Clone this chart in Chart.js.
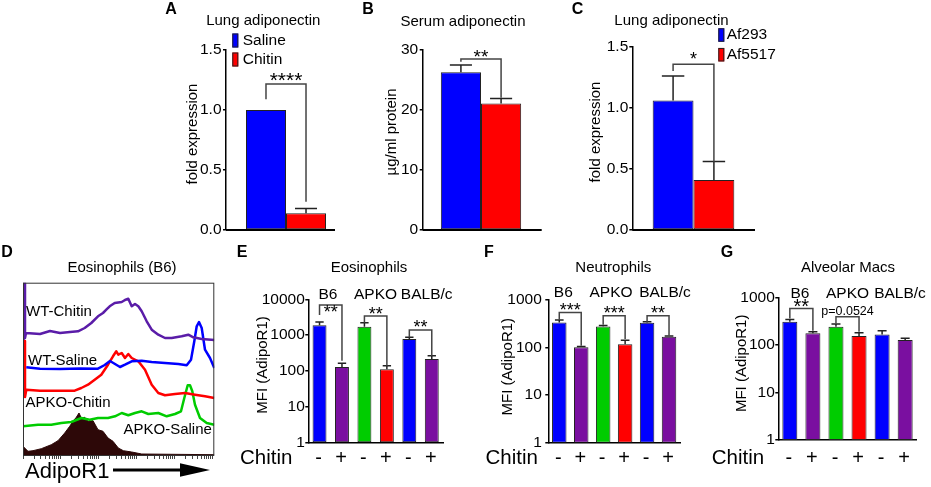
<!DOCTYPE html>
<html>
<head>
<meta charset="utf-8">
<script src="https://cdn.jsdelivr.net/npm/chart.js@4.4.1/dist/chart.umd.min.js"></script>
<style>
  html, body { margin: 0; padding: 0; background: #fff; }
  #wrap { position: relative; width: 931px; height: 487px; overflow: hidden; background: #fff; }
  #wrap canvas { position: absolute; left: 0; top: 0; }
</style>
</head>
<body>
<div id="wrap">
  <canvas id="chartA" width="931" height="487"></canvas>
  <canvas id="chartB" width="931" height="487"></canvas>
  <canvas id="chartC" width="931" height="487"></canvas>
  <canvas id="chartD" width="931" height="487"></canvas>
  <canvas id="chartE" width="931" height="487"></canvas>
  <canvas id="chartF" width="931" height="487"></canvas>
  <canvas id="chartG" width="931" height="487"></canvas>
</div>
<script>
const FONT = '"Liberation Sans", Arial, Helvetica, sans-serif';
const W = 931, H = 487;

// --- data: top row (A, B, C)
const aLabels = ['Saline', 'Chitin'];
const aMeans = [1.0, 0.14];
const aErrTop = [null, 0.18];

const bLabels = ['Saline', 'Chitin'];
const bMeans = [26.3, 21.1];
const bErrTop = [27.5, 21.9];

const cLabels = ['Af293', 'Af5517'];
const cMeans = [1.06, 0.41];
const cErrTop = [1.26, 0.56];

// --- data: histogram overlay D  ([channel, count] pairs)
const dWtChitin = [[0.5,115],[0.5,172],[2,172],[2,117],[3,122],[17,121],[27,124],[37,122],[47,123],[55,123.7],
  [61.7,127],[68.3,132],[75,138.7],[80,142],[83.3,145.3],[86.7,148.7],[91.7,152],[98.7,153],[102,155],[105.3,156.3],
  [108.7,148.7],[112,151],[115.3,148.7],[118.7,143.7],[123.7,133.7],[128.7,125.3],[135.3,120.3],[142,117],[148.7,117],
  [158.7,118.7],[165.3,120.3],[170.3,117.7],[178.7,116],[191.3,115]];
const dWtSaline = [[3.3,87.7],[17,86.3],[37,86],[57,86.5],[75,86.3],[81.7,90],[87,94],[92,91],[97,88],[102,90.3],
  [108.7,93.7],[118.7,94.3],[128.7,93],[142,92],[155.3,91],[163.7,89.7],[168,95.3],[171.3,113.7],[173.7,128.7],
  [176,133],[178.7,127],[182,105.3],[187,97],[191.3,87]];
const dApkoChitin = [[0.5,57],[0.5,114],[2,114],[2,58],[3.3,65.3],[17,64.3],[37,64.3],[51.7,64.3],[58.3,67],[65,70.3],
  [71.7,75.3],[78.3,80.3],[85,90.3],[90,98.7],[93.3,103.7],[95.3,100.3],[98.7,102],[102,97],[105.3,101],[108.7,97],
  [115.3,93.7],[122,85.3],[128.7,70.3],[135.3,62],[142,59.7],[152,61],[162,62],[172,60.3],[182,58.7],[191.3,57]];
const dApkoSaline = [[0,28.7],[15,30.3],[28.3,30.3],[38.3,32],[48.3,33],[58.3,37],[66.7,35.3],[75,37],[85,37],
  [92,38.7],[98.7,42],[105.3,39.7],[112,42],[118.7,43.7],[125.3,41],[135.3,42],[143.7,38.7],[152,41],[158,43.7],
  [161.3,57],[164.7,69.7],[167,69.7],[169.3,63.7],[172,50.3],[177,37],[183.7,32],[191.3,30.3]];
const dFilled = [[0,8.7],[5,3.7],[10,4.3],[18.3,6.3],[28.3,10.3],[35,14.3],[41.7,22],[46.7,28.7],[50,33.7],[53.3,37.7],
  [56,42],[58.3,37],[61.7,37.7],[65,33.7],[70,34.3],[75,25.3],[80,23.7],[85,17],[90,13.7],[95.3,7],[100.3,4.3],
  [108.7,3],[118.7,1],[191.3,0.3]];
const dTickDecades = [0, 38, 76, 114, 152, 190];
const dTickMinor = [11, 18, 23, 27, 30, 32, 34, 36];

// --- data: bottom row (E, F, G)
const groupNames = ['B6', 'APKO', 'BALB/c'];
const chitinCats = ['-', '+', '-', '+', '-', '+'];

const eMeans = [1870, 128, 1710, 110, 776, 214];
const eErrTop = [2330, 162, 2220, 139, 865, 265];
const eTicks = [1, 10, 100, 1000, 10000];

const fMeans = [336, 102, 277, 118, 331, 168];
const fErrTop = [378, 105, 290, 143, 347, 174];
const fTicks = [1, 10, 100, 1000];

const gMeans = [305, 175, 240, 153, 166, 126];
const gErrTop = [343, 188, 273, 180, 198, 137];
const gTicks = [1, 10, 100, 1000];

const BLUE = '#0000ff', RED = '#ff0000', GREEN = '#00cc00', PURPLE = '#7a0fa0';
const sixColors = [BLUE, PURPLE, GREEN, RED, BLUE, PURPLE];

// extra drawing info per canvas (texts, brackets...)
const extras = {};

function font(size, bold) {
  return (bold ? 'bold ' : '') + size + 'px ' + FONT;
}

function allBars(chart) {
  const out = [];
  chart.data.datasets.forEach((ds, d) => {
    chart.getDatasetMeta(d).data.forEach(el => out.push(el));
  });
  return out;
}

function drawText(ctx, t) {
  const size = t.size || 15;
  ctx.save();
  ctx.fillStyle = '#000';
  ctx.font = font(size, t.bold);
  ctx.textAlign = t.align || 'center';
  ctx.textBaseline = 'middle';
  let y = t.y;
  if (/^\*+$/.test(t.t)) y += 0.23 * size;
  if (t.rot) {
    ctx.translate(t.x, y);
    ctx.rotate(-Math.PI / 2);
    ctx.fillText(t.t, 0, 0);
  } else {
    ctx.fillText(t.t, t.x, y);
  }
  ctx.restore();
}

const panelPlugin = {
  id: 'panel',
  afterDatasetsDraw(chart) {
    const o = extras[chart.canvas.id];
    if (!o) return;
    const ctx = chart.ctx;
    const ys = chart.scales.y;
    const bars = allBars(chart);
    ctx.save();
    if (o.errTop) {
      ctx.strokeStyle = '#222';
      ctx.lineWidth = 1.5;
      bars.forEach((el, k) => {
        const e = o.errTop[k];
        if (e == null) return;
        const ye = ys.getPixelForValue(e);
        const half = el.width * o.capFrac / 2;
        ctx.beginPath();
        ctx.moveTo(el.x, el.y);
        ctx.lineTo(el.x, ye);
        ctx.moveTo(el.x - half, ye);
        ctx.lineTo(el.x + half, ye);
        ctx.stroke();
      });
    }
    (o.brackets || []).forEach(b => {
      const xl = bars[b.from].x, xr = bars[b.to].x;
      const yt = ys.getPixelForValue(b.top);
      ctx.strokeStyle = '#444';
      ctx.lineWidth = 1.5;
      ctx.beginPath();
      ctx.moveTo(xl, ys.getPixelForValue(b.left));
      ctx.lineTo(xl, yt);
      ctx.lineTo(xr, yt);
      ctx.lineTo(xr, ys.getPixelForValue(b.right));
      ctx.stroke();
      drawText(ctx, { t: b.label, x: (xl + xr) / 2, y: ys.getPixelForValue(b.labelAt), size: b.size });
    });
    ctx.restore();
  },
  afterDraw(chart) {
    const o = extras[chart.canvas.id];
    if (!o) return;
    const ctx = chart.ctx;
    const area = chart.chartArea;
    ctx.save();
    if (o.xAxisEnd) {
      ctx.strokeStyle = '#000';
      ctx.lineWidth = 2;
      ctx.beginPath();
      ctx.moveTo(area.left, area.bottom);
      ctx.lineTo(o.xAxisEnd, area.bottom);
      ctx.stroke();
    }
    if (o.frame) {
      ctx.strokeStyle = '#333';
      ctx.lineWidth = 1;
      ctx.strokeRect(area.left + 0.5, area.top + 0.5, area.right - area.left - 1, area.bottom - area.top);
    }
    if (o.arrow) {
      const a = o.arrow;
      ctx.strokeStyle = '#000';
      ctx.fillStyle = '#000';
      ctx.lineWidth = 3;
      ctx.beginPath();
      ctx.moveTo(a.x1, a.y);
      ctx.lineTo(a.headX + 2, a.y);
      ctx.stroke();
      ctx.beginPath();
      ctx.moveTo(a.headX, a.y - a.h);
      ctx.lineTo(a.x2, a.y);
      ctx.lineTo(a.headX, a.y + a.h);
      ctx.closePath();
      ctx.fill();
    }
    if (o.legend) {
      const L = o.legend;
      chart.data.datasets.forEach((ds, i) => {
        ctx.fillStyle = ds.backgroundColor;
        ctx.fillRect(L.x, L.ys[i] - L.h / 2, L.w, L.h);
        ctx.strokeStyle = '#222';
        ctx.lineWidth = 1;
        ctx.strokeRect(L.x + 0.5, L.ys[i] - L.h / 2 + 0.5, L.w - 1, L.h - 1);
        drawText(ctx, { t: ds.label, x: L.textX, y: L.ys[i], size: 15.5, align: 'left' });
      });
    }
    if (o.catY) {
      const bars = allBars(chart);
      bars.forEach((el, k) => drawText(ctx, { t: chart.data.labels[k], x: el.x - 1, y: o.catY, size: 20 }));
    }
    if (o.groupX) {
      o.groupX.forEach((x, i) => drawText(ctx, { t: groupNames[i], x: x, y: o.groupY, size: 15.5 }));
    }
    (o.texts || []).forEach(t => drawText(ctx, t));
    ctx.restore();
  }
};

function yAxisLinear(rect, max, step, decimals, pad) {
  return {
    min: 0, max: max,
    ticks: { stepSize: step, color: '#000', padding: pad, font: { family: FONT, size: 15.5 },
      callback: v => v.toFixed(decimals) },
    grid: { display: true, drawOnChartArea: false, drawTicks: true, tickLength: 3, color: '#000', lineWidth: 1.5 },
    border: { display: true, color: '#000', width: 1.5 },
    afterFit: s => { s.width = rect.l; }
  };
}

function makePairPanel(id, labels, means, groupFrac, rect, yAxis) {
  const colors = [BLUE, RED];
  return new Chart(document.getElementById(id), {
    type: 'bar',
    data: {
      labels: [''],
      datasets: labels.map((lab, i) => ({
        label: lab,
        data: [means[i]],
        backgroundColor: colors[i],
        borderColor: '#222',
        borderWidth: 1,
        borderSkipped: false,
        barPercentage: 1,
        categoryPercentage: groupFrac
      }))
    },
    options: {
      responsive: false,
      animation: false,
      layout: { padding: { left: 0, top: rect.t, right: W - rect.r, bottom: 0 } },
      plugins: { legend: { display: false }, tooltip: { enabled: false } },
      scales: {
        x: { grid: { display: false }, border: { display: false }, ticks: { display: false },
          afterFit: s => { s.height = H - rect.b; } },
        y: yAxis
      }
    },
    plugins: [panelPlugin]
  });
}

function makeLogPanel(id, means, yMax, yTicks, barFrac, rect, pad) {
  return new Chart(document.getElementById(id), {
    type: 'bar',
    data: {
      labels: chitinCats,
      datasets: [{
        label: 'MFI',
        data: means,
        backgroundColor: sixColors,
        borderColor: '#222',
        borderWidth: 1,
        borderSkipped: false,
        barPercentage: barFrac,
        categoryPercentage: 1
      }]
    },
    options: {
      responsive: false,
      animation: false,
      layout: { padding: { left: 0, top: rect.t, right: W - rect.r, bottom: 0 } },
      plugins: { legend: { display: false }, tooltip: { enabled: false } },
      scales: {
        x: { grid: { display: false }, border: { display: true, color: '#000', width: 1.5 },
          ticks: { display: false }, afterFit: s => { s.height = H - rect.b; } },
        y: {
          type: 'logarithmic', min: 1, max: yMax,
          afterBuildTicks: s => { s.ticks = yTicks.map(v => ({ value: v })); },
          ticks: { color: '#000', padding: pad, font: { family: FONT, size: 15.5 }, callback: v => String(v) },
          grid: { display: true, drawOnChartArea: false, drawTicks: true, tickLength: 3, color: '#000', lineWidth: 1.5 },
          border: { display: true, color: '#000', width: 1.5 },
          afterFit: s => { s.width = rect.l; }
        }
      }
    },
    plugins: [panelPlugin]
  });
}

// ---------- A
const rectA = { l: 226, r: 346, t: 50, b: 230 };
extras.chartA = {
  errTop: aErrTop, capFrac: 0.55, xAxisEnd: 335,
  brackets: [{ from: 0, to: 1, top: 1.217, left: 1.089, right: 0.236, label: '****', labelAt: 1.283, size: 21 }],
  legend: { x: 232.3, w: 6, h: 14, ys: [40.5, 59.5], textX: 242.7 },
  texts: [
    { t: 'A', x: 171, y: 10, size: 16, bold: true },
    { t: 'Lung adiponectin', x: 263.3, y: 21 },
    { t: 'fold expression', x: 192.5, y: 134, rot: true }
  ]
};
makePairPanel('chartA', aLabels, aMeans, 0.667, rectA, yAxisLinear(rectA, 1.5, 0.5, 1, 1.5));

// ---------- B
const rectB = { l: 422.7, r: 539.3, t: 50, b: 230 };
extras.chartB = {
  errTop: bErrTop, capFrac: 0.55, xAxisEnd: 541.7,
  brackets: [{ from: 0, to: 1, top: 28.5, left: 28.05, right: 22.05, label: '**', labelAt: 29.4, size: 19 }],
  texts: [
    { t: 'B', x: 368, y: 10, size: 16, bold: true },
    { t: 'Serum adiponectin', x: 463, y: 22 },
    { t: 'µg/ml protein', x: 392, y: 132, rot: true }
  ]
};
makePairPanel('chartB', bLabels, bMeans, 0.689, rectB, yAxisLinear(rectB, 30, 10, 0, 1.5));

// ---------- C
const rectC = { l: 632.3, r: 754.7, t: 46.7, b: 230 };
extras.chartC = {
  errTop: cErrTop, capFrac: 0.55, xAxisEnd: 755,
  brackets: [{ from: 0, to: 1, top: 1.356, left: 1.301, right: 0.559, label: '*', labelAt: 1.424, size: 18 }],
  legend: { x: 718.3, w: 6, h: 13.5, ys: [35, 54.7], textX: 726.7 },
  texts: [
    { t: 'C', x: 577.5, y: 10, size: 16, bold: true },
    { t: 'Lung adiponectin', x: 671.5, y: 21 },
    { t: 'fold expression', x: 596, y: 132, rot: true }
  ]
};
makePairPanel('chartC', cLabels, cMeans, 0.667, rectC, yAxisLinear(rectC, 1.5, 0.5, 1, 1));

// ---------- D
const rectD = { l: 23, r: 214.3, t: 282.7, b: 455 };
const dTickPos = [];
dTickDecades.forEach((d, i) => {
  dTickPos.push(d);
  if (i < dTickDecades.length - 1) dTickMinor.forEach(m => dTickPos.push(d + m));
});
const toXY = arr => arr.map(p => ({ x: p[0], y: p[1] }));
const lineDs = (label, data, color, width) => ({
  label: label, data: toXY(data), borderColor: color, borderWidth: width,
  pointRadius: 0, tension: 0, fill: false, borderJoinStyle: 'round'
});
extras.chartD = {
  frame: true,
  arrow: { x1: 113, x2: 210, headX: 180, y: 470, h: 6.7 },
  texts: [
    { t: 'D', x: 7, y: 253, size: 16, bold: true },
    { t: 'Eosinophils (B6)', x: 122, y: 268 },
    { t: 'WT-Chitin', x: 26, y: 312, align: 'left' },
    { t: 'WT-Saline', x: 28, y: 361, align: 'left' },
    { t: 'APKO-Chitin', x: 25.5, y: 403, align: 'left' },
    { t: 'APKO-Saline', x: 123.5, y: 430, align: 'left' },
    { t: 'AdipoR1', x: 25, y: 472, size: 22, align: 'left' }
  ]
};
new Chart(document.getElementById('chartD'), {
  type: 'line',
  data: {
    datasets: [
      lineDs('WT-Chitin', dWtChitin, '#5a1ca8', 2.5),
      lineDs('WT-Saline', dWtSaline, BLUE, 2.5),
      lineDs('APKO-Chitin', dApkoChitin, RED, 2.5),
      lineDs('APKO-Saline', dApkoSaline, GREEN, 2.5),
      { label: 'filled', data: toXY(dFilled), borderColor: '#2d0808', backgroundColor: '#2d0808',
        borderWidth: 1, pointRadius: 0, tension: 0, fill: 'origin' }
    ]
  },
  options: {
    responsive: false,
    animation: false,
    layout: { padding: { left: rectD.l, top: rectD.t, right: W - rectD.r, bottom: 0 } },
    plugins: { legend: { display: false }, tooltip: { enabled: false } },
    scales: {
      x: {
        type: 'linear', min: 0, max: 191.3,
        afterBuildTicks: s => { s.ticks = dTickPos.map(v => ({ value: v })); },
        ticks: { display: false },
        grid: { display: true, drawOnChartArea: false, drawTicks: true, tickLength: 4, color: '#444', lineWidth: 1 },
        border: { display: false },
        afterFit: s => { s.height = H - rectD.b; }
      },
      y: { min: 0, max: 172.3, display: false }
    }
  },
  plugins: [panelPlugin]
});

// ---------- E
const rectE = { l: 308.3, r: 443, t: 299.3, b: 442.3 };
extras.chartE = {
  errTop: eErrTop, capFrac: 0.6, catY: 458,
  groupX: [328, 375.5, 426.7], groupY: 295,
  brackets: [
    { from: 0, to: 1, top: 6920, left: 3640, right: 192, label: '**', labelAt: 5380, size: 18 },
    { from: 2, to: 3, top: 3410, left: 2215, right: 139, label: '**', labelAt: 4700, size: 18 },
    { from: 4, to: 5, top: 1385, left: 865, right: 265, label: '**', labelAt: 2040, size: 18 }
  ],
  texts: [
    { t: 'E', x: 242, y: 253, size: 16, bold: true },
    { t: 'Eosinophils', x: 369, y: 268 },
    { t: 'MFI (AdipoR1)', x: 263.3, y: 365, rot: true },
    { t: 'Chitin', x: 240, y: 458.3, size: 20.5, align: 'left' }
  ]
};
makeLogPanel('chartE', eMeans, 10000, eTicks, 0.62, rectE, 0.5);

// ---------- F
const rectF = { l: 548.3, r: 680, t: 300, b: 442.7 };
extras.chartF = {
  errTop: fErrTop, capFrac: 0.6, catY: 458,
  groupX: [563.3, 611, 665], groupY: 293,
  brackets: [
    { from: 0, to: 1, top: 546, left: 383, right: 109, label: '***', labelAt: 730, size: 18 },
    { from: 2, to: 3, top: 465, left: 300, right: 152, label: '***', labelAt: 622, size: 18 },
    { from: 4, to: 5, top: 465, left: 343, right: 179, label: '**', labelAt: 622, size: 18 }
  ],
  texts: [
    { t: 'F', x: 489, y: 253, size: 16, bold: true },
    { t: 'Neutrophils', x: 613.3, y: 268 },
    { t: 'MFI (AdipoR1)', x: 507.5, y: 366.7, rot: true },
    { t: 'Chitin', x: 485.5, y: 458.3, size: 20.5, align: 'left' }
  ]
};
makeLogPanel('chartF', fMeans, 1000, fTicks, 0.66, rectF, 3.5);

// ---------- G
const rectG = { l: 778.3, r: 916.7, t: 297.3, b: 440 };
extras.chartG = {
  errTop: gErrTop, capFrac: 0.6, catY: 458,
  groupX: [800, 847.5, 900], groupY: 293.3,
  brackets: [
    { from: 0, to: 1, top: 585, left: 360, right: 198, label: '**', labelAt: 745, size: 20 },
    { from: 2, to: 3, top: 389, left: 283, right: 188, label: 'p=0.0524', labelAt: 513, size: 12.5 }
  ],
  texts: [
    { t: 'G', x: 727, y: 253, size: 16, bold: true },
    { t: 'Alveolar Macs', x: 848, y: 268 },
    { t: 'MFI (AdipoR1)', x: 741.7, y: 363.3, rot: true },
    { t: 'Chitin', x: 711.7, y: 458.3, size: 20.5, align: 'left' }
  ]
};
makeLogPanel('chartG', gMeans, 1000, gTicks, 0.65, rectG, 0.5);
</script>
</body>
</html>
